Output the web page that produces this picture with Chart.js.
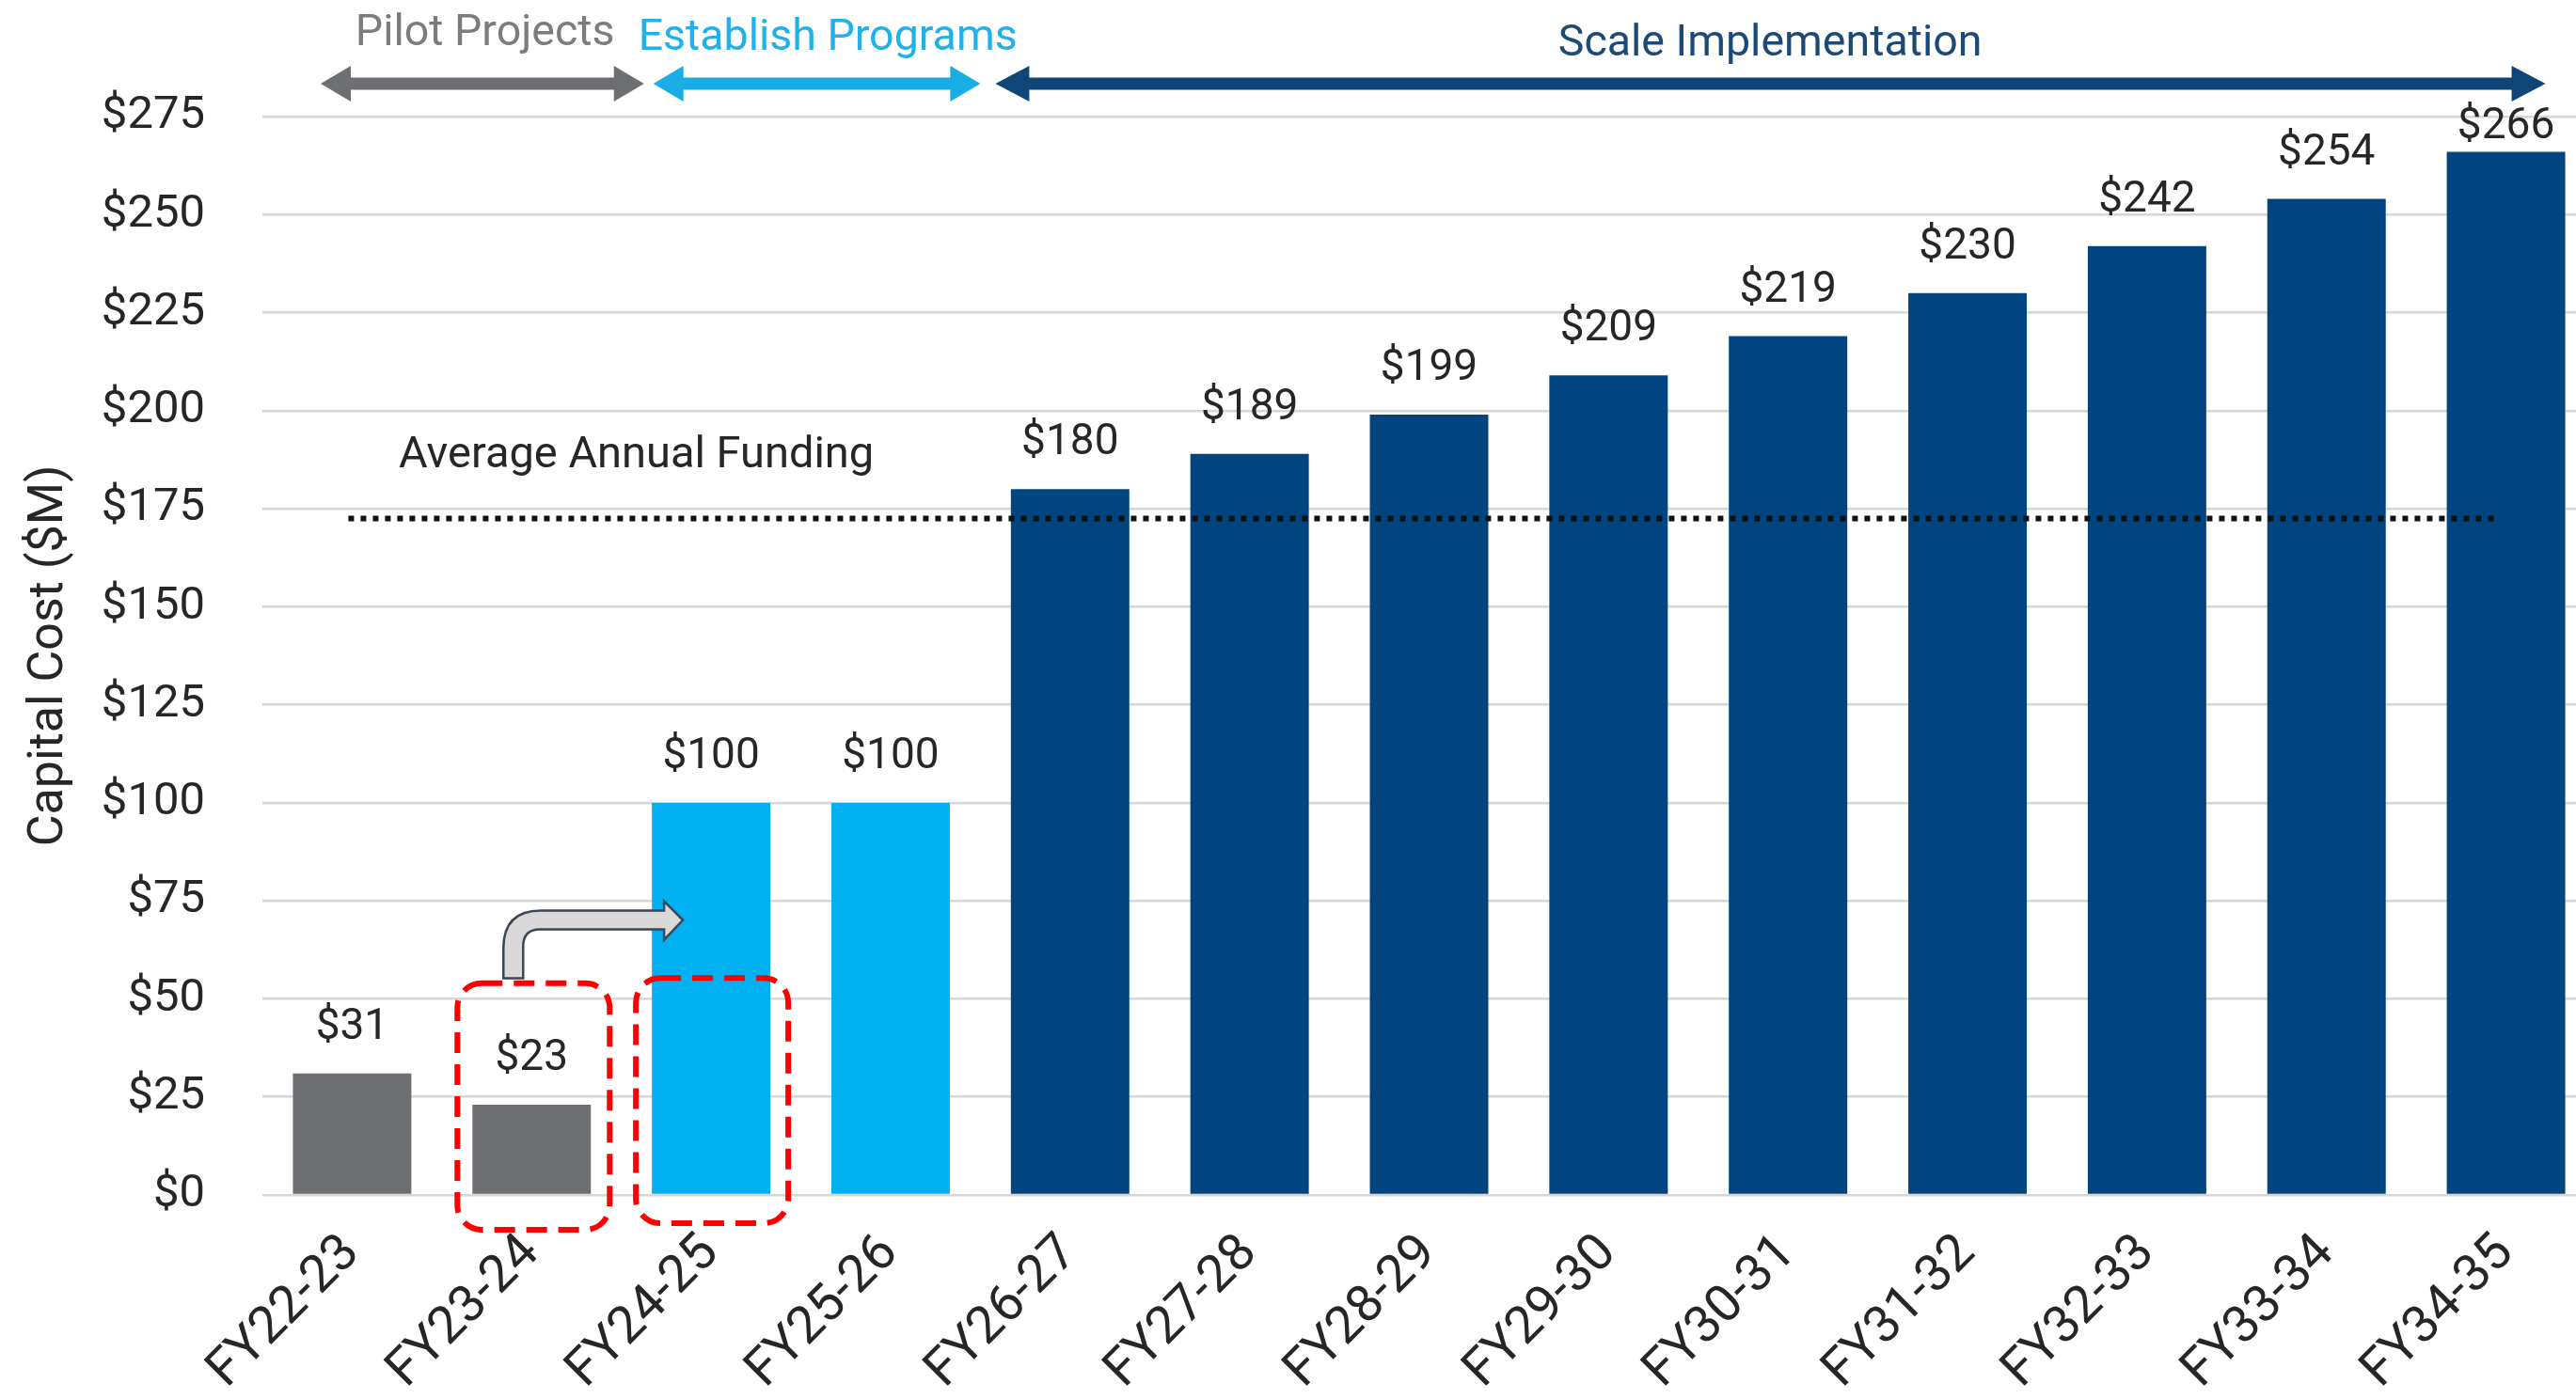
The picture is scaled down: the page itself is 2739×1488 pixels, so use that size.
<!DOCTYPE html>
<html>
<head>
<meta charset="utf-8">
<script src="https://cdn.jsdelivr.net/npm/chart.js"></script>
<style>
  html, body { margin: 0; padding: 0; background: #fff; overflow: hidden; }
  #wrap { position: relative; width: 2760px; height: 1488px; }
</style>
</head>
<body>
<div id="wrap"><canvas id="costChart"></canvas></div>
<script>
const years = ["FY22-23", "FY23-24", "FY24-25", "FY25-26", "FY26-27", "FY27-28", "FY28-29",
  "FY29-30", "FY30-31", "FY31-32", "FY32-33", "FY33-34", "FY34-35"];
const capitalCost = [31, 23, 100, 100, 180, 189, 199, 209, 219, 230, 242, 254, 266];
const phaseOfYear = ["pilot", "pilot", "establish", "establish", "scale", "scale", "scale",
  "scale", "scale", "scale", "scale", "scale", "scale"];
const phaseNames = ["Pilot Projects", "Establish Programs", "Scale Implementation"];
const avgFunding = 172.5;
const yTicks = [0, 25, 50, 75, 100, 125, 150, 175, 200, 225, 250, 275];

const barColors = { pilot: "#6d6e71", establish: "#00b0f0", scale: "#00457f" };
const FONT = "Roboto, 'Liberation Sans', sans-serif";
const TEXT = "#262626";

// phase banner layout in category units, plus colours
const bannerLayout = [
  { from: -0.175, to: 1.626, textAt: 0.74, textY: 36, text: "#7b7c7f", arrow: "#6d6f73" },
  { from: 1.678, to: 3.5, textAt: 2.65, textY: 41, text: "#1fb1e9", arrow: "#19ade6" },
  { from: 3.584, to: 12.22, textAt: 7.9, textY: 47, text: "#1c4a78", arrow: "#0d4677" },
];

function drawDoubleArrow(ctx, x1, x2, y, color, headLen, headHalf, shaft) {
  ctx.save();
  ctx.fillStyle = color;
  ctx.beginPath();
  ctx.moveTo(x1, y);
  ctx.lineTo(x1 + headLen, y - headHalf);
  ctx.lineTo(x1 + headLen, y - shaft / 2);
  ctx.lineTo(x2 - headLen, y - shaft / 2);
  ctx.lineTo(x2 - headLen, y - headHalf);
  ctx.lineTo(x2, y);
  ctx.lineTo(x2 - headLen, y + headHalf);
  ctx.lineTo(x2 - headLen, y + shaft / 2);
  ctx.lineTo(x1 + headLen, y + shaft / 2);
  ctx.lineTo(x1 + headLen, y + headHalf);
  ctx.closePath();
  ctx.fill();
  ctx.restore();
}

const extras = {
  id: "extras",
  afterDatasetsDraw(chart) {
    const { ctx, chartArea, scales: { x, y } } = chart;

    // value labels (kept inside the plot area at the top)
    const meta = chart.getDatasetMeta(0);
    ctx.save();
    ctx.font = "46px " + FONT;
    ctx.fillStyle = TEXT;
    ctx.textAlign = "center";
    ctx.textBaseline = "alphabetic";
    meta.data.forEach((bar, i) => {
      const by = Math.max(bar.y - 37, chartArea.top + 23);
      ctx.fillText("$" + capitalCost[i], bar.x, by);
    });
    ctx.restore();

    // average funding dotted line
    const ay = y.getPixelForValue(avgFunding);
    ctx.save();
    ctx.strokeStyle = "#111";
    ctx.lineWidth = 6;
    ctx.setLineDash([6, 7]);
    ctx.beginPath();
    ctx.moveTo(x.getPixelForValue(0) - 4, ay);
    ctx.lineTo(x.getPixelForValue(12) - 9, ay);
    ctx.stroke();
    ctx.font = "47px " + FONT;
    ctx.fillStyle = TEXT;
    ctx.textBaseline = "middle";
    ctx.fillText("Average Annual Funding", 424, ay - 66);
    ctx.restore();

    // red dashed boxes around FY23-24 and FY24-25
    ctx.save();
    ctx.strokeStyle = "#ff0000";
    ctx.lineWidth = 6;
    ctx.setLineDash([22, 12]);
    [[1, 54], [2, 55.3]].forEach(([idx, topVal]) => {
      const cx = x.getPixelForValue(idx) + (idx === 1 ? 2 : 1);
      const top = y.getPixelForValue(topVal);
      const bottom = y.getPixelForValue(0) + (idx === 1 ? 37 : 30);
      ctx.beginPath();
      ctx.roundRect(cx - 81, top, 162, bottom - top, 26);
      ctx.stroke();
    });
    ctx.restore();

    // bent arrow from FY23-24 to FY24-25
    const sx = x.getPixelForValue(1) - 30;
    const sw = 21;
    const base = y.getPixelForValue(56) + 3;
    const topY = y.getPixelForValue(72.5);
    const th = 20;
    const tipX = x.getPixelForValue(2) - 30;
    ctx.save();
    ctx.fillStyle = "#d9d9d9";
    ctx.strokeStyle = "#3b4654";
    ctx.lineWidth = 2.5;
    ctx.beginPath();
    ctx.moveTo(sx, base);
    ctx.lineTo(sx, topY + 40);
    ctx.quadraticCurveTo(sx, topY, sx + 40, topY);
    ctx.lineTo(tipX - 20, topY);
    ctx.lineTo(tipX - 20, topY - 10);
    ctx.lineTo(tipX, topY + th / 2);
    ctx.lineTo(tipX - 20, topY + th + 11);
    ctx.lineTo(tipX - 20, topY + th);
    ctx.lineTo(sx + sw + 18, topY + th);
    ctx.quadraticCurveTo(sx + sw, topY + th, sx + sw, topY + th + 18);
    ctx.lineTo(sx + sw, base);
    ctx.closePath();
    ctx.fill();
    ctx.stroke();
    ctx.restore();

    // phase banners
    ctx.save();
    ctx.font = "46.5px " + FONT;
    ctx.textAlign = "center";
    ctx.textBaseline = "middle";
    bannerLayout.forEach((b, i) => {
      const x1 = x.getPixelForValue(b.from);
      const x2 = x.getPixelForValue(b.to);
      drawDoubleArrow(ctx, x1, x2, 89, b.arrow, i === 2 ? 36 : 32, 19, 13);
      ctx.fillStyle = b.text;
      ctx.fillText(phaseNames[i], x.getPixelForValue(b.textAt), b.textY);
    });
    ctx.restore();
  },
};

new Chart(document.getElementById("costChart"), {
  type: "bar",
  data: {
    labels: years,
    datasets: [
      {
        label: "Capital Cost",
        data: capitalCost,
        backgroundColor: phaseOfYear.map((p) => barColors[p]),
        barPercentage: 0.66,
        categoryPercentage: 1.0,
      },
    ],
  },
  options: {
    responsive: true,
    maintainAspectRatio: false,
    animation: false,
    layout: { padding: { top: 124, right: 0, bottom: 0, left: 0 } },
    plugins: {
      legend: { display: false },
      tooltip: { enabled: false },
    },
    scales: {
      x: {
        grid: { display: false },
        border: { display: false },
        ticks: {
          autoSkip: false,
          maxRotation: 45,
          minRotation: 45,
          padding: 22,
          color: TEXT,
          font: { family: FONT, size: 55 },
        },
        afterFit(scale) {
          scale.height = 217;
        },
      },
      y: {
        min: 0,
        max: 275,
        afterBuildTicks(scale) {
          scale.ticks = yTicks.map((v) => ({ value: v }));
        },
        grid: { color: "#d6d6d6", lineWidth: 2.5, drawTicks: false },
        border: { display: false },
        ticks: {
          padding: 61,
          color: TEXT,
          font: { family: FONT, size: 49 },
          callback: (v) => "$" + v,
        },
        title: {
          display: true,
          text: "Capital Cost ($M)",
          color: TEXT,
          font: { family: FONT, size: 52 },
          padding: { top: 22, bottom: 0 },
        },
        afterFit(scale) {
          scale.width = 279;
        },
      },
    },
  },
  plugins: [extras],
});
</script>
</body>
</html>
